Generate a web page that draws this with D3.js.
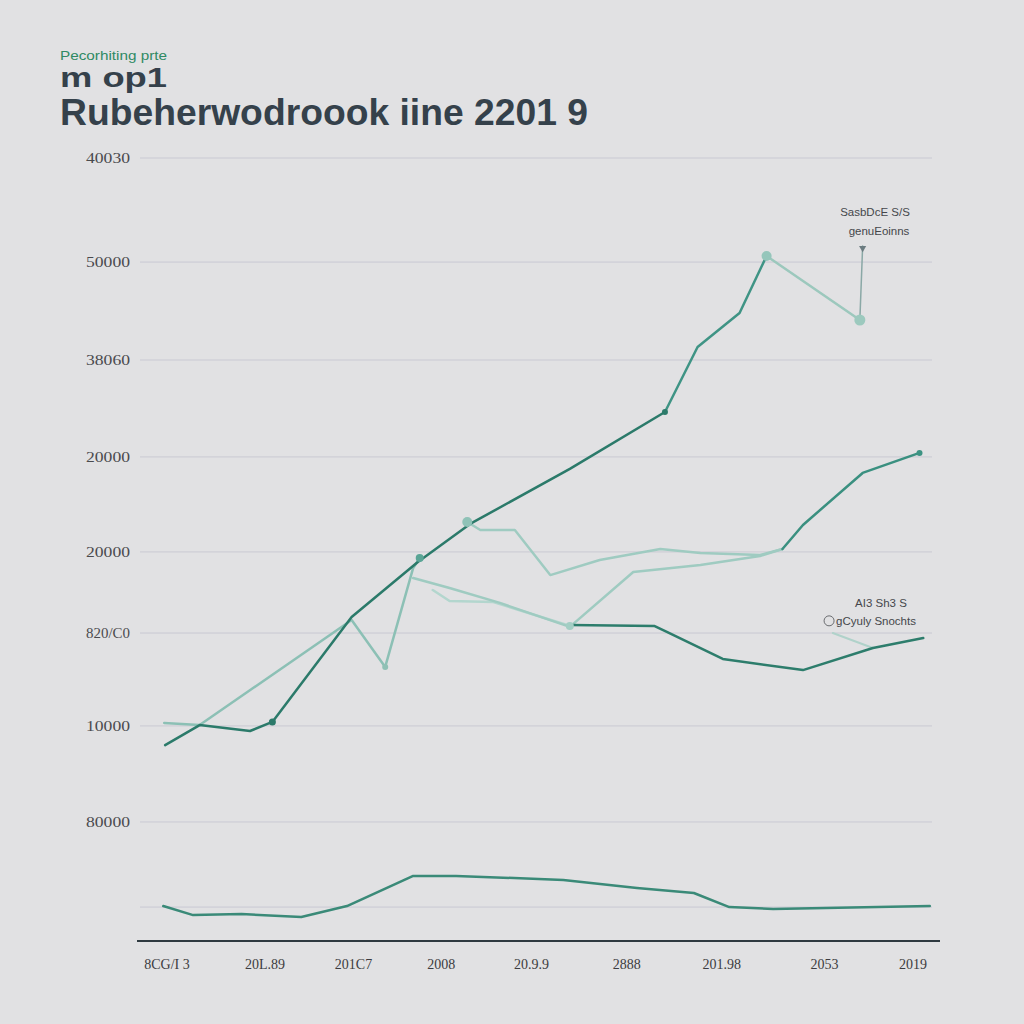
<!DOCTYPE html>
<html>
<head>
<meta charset="utf-8">
<script src="https://cdn.jsdelivr.net/npm/d3@7"></script>
<style>
  html, body { margin: 0; padding: 0; background: #e1e1e3; }
  svg { display: block; }
</style>
</head>
<body>
<svg id="chart" width="1024" height="1024"></svg>
<script>
// ---------- data ----------
const kicker = "Pecorhiting prte";
const titleLine1 = "m op1";
const titleLine2 = "Rubeherwodroook iine 2201 9";

const yGridValues = [45.0, 39.02, 33.39, 27.82, 22.36, 17.70, 12.36, 6.84, 1.95];
const yTickLabels = ["40030", "50000", "38060", "20000", "20000", "820/C0", "10000", "80000"];

const xTickValues = [0, 1.05, 2, 2.94, 3.91, 4.93, 5.95, 7.05, 8];
const xTickLabels = ["8CG/I 3", "20L.89", "201C7", "2008", "20.9.9", "2888", "201.98", "2053", "2019"];

// series: [x, y(thousands)]
const mainDark = [[-0.02,11.26],[0.35,12.41],[0.89,12.07],[1.13,12.59],[1.98,18.62],[2.69,21.78],[3.25,23.97],[4.32,27.13],[5.34,30.40]];
const riseMedium = [[5.34,30.40],[5.69,34.14],[6.14,36.09],[6.43,39.37]];
const peakLight = [[6.43,39.37],[7.43,35.69]];
const pointerLine = [[7.43,35.69],[7.46,39.94]];
const lightA = [[-0.03,12.53],[0.35,12.41],[1.98,18.45],[2.34,15.75],[2.64,21.44],[2.71,22.01]];
const lightB = [[3.22,24.08],[3.36,23.62],[3.73,23.62],[4.11,21.03],[4.64,21.90],[5.29,22.53],[5.72,22.30],[6.36,22.18],[6.60,22.53]];
const lightC = [[2.64,20.86],[3.03,20.29],[3.57,19.43],[4.32,18.05],[5.00,21.21],[5.72,21.61],[6.36,22.13],[6.60,22.53]];
const lightD = [[2.85,20.17],[3.03,19.54],[3.50,19.48],[4.29,18.16]];
const rightRise = [[6.60,22.53],[6.82,23.91],[7.46,26.90],[8.07,28.05]];
const lowerDark = [[4.32,18.16],[5.23,18.10],[5.36,17.76],[5.96,16.21],[6.82,15.57],[7.57,16.84],[8.11,17.41]];
const leader = [[7.14,17.70],[7.57,16.84]];
const bottomSeries = [[-0.04,2.01],[0.28,1.49],[0.80,1.55],[1.44,1.38],[1.93,2.01],[2.64,3.74],[3.10,3.74],[4.25,3.51],[5.04,3.05],[5.65,2.76],[6.03,1.95],[6.50,1.84],[8.18,2.01]];

const dots = [
  {p:[1.13,12.59], c:"#2c7a6a", r:3.5},
  {p:[5.34,30.40], c:"#2c7a6a", r:3},
  {p:[2.71,22.01], c:"#5aa596", r:4},
  {p:[3.22,24.08], c:"#8fc2b7", r:5},
  {p:[6.43,39.37], c:"#95c6bb", r:5},
  {p:[7.43,35.69], c:"#9cc9be", r:5.5},
  {p:[4.32,18.10], c:"#a3cec4", r:4},
  {p:[8.07,28.05], c:"#3d9383", r:3},
  {p:[2.34,15.75], c:"#8fc0b5", r:3}
];

const annoTop = ["SasbDcE S/S", "genuEoinns"];
const annoBottom = ["AI3 Sh3 S", "gCyuly Snochts"];

// ---------- drawing ----------
const svg = d3.select("#chart");
const x = d3.scaleLinear().domain([0, 8]).range([167, 913]);
const y = d3.scaleLinear().domain([0, 45]).range([941, 158]);

svg.append("rect").attr("width", 1024).attr("height", 1024).attr("fill", "#e1e1e3");

// titles
svg.append("text").attr("x", 60).attr("y", 60).text(kicker)
  .attr("font-family", "Liberation Sans, Arial, sans-serif").attr("font-size", 12)
  .attr("fill", "#2f8a64").attr("textLength", 107).attr("lengthAdjust", "spacingAndGlyphs");
svg.append("text").attr("x", 60).attr("y", 87).text(titleLine1)
  .attr("font-family", "Liberation Sans, Arial, sans-serif").attr("font-size", 27).attr("font-weight", "bold")
  .attr("fill", "#35414b").attr("textLength", 107).attr("lengthAdjust", "spacingAndGlyphs");
svg.append("text").attr("x", 60).attr("y", 125).text(titleLine2)
  .attr("font-family", "Liberation Sans, Arial, sans-serif").attr("font-size", 37).attr("font-weight", "bold")
  .attr("fill", "#35414b").attr("textLength", 528).attr("lengthAdjust", "spacingAndGlyphs");

// gridlines
svg.append("g").selectAll("line").data(yGridValues).join("line")
  .attr("x1", 140).attr("x2", 932)
  .attr("y1", d => y(d)).attr("y2", d => y(d))
  .attr("stroke", "#c9c9d3").attr("stroke-width", 1);

// y labels
svg.append("g").selectAll("text").data(yTickLabels).join("text")
  .attr("x", 130).attr("y", (d, i) => y(yGridValues[i]) + 5)
  .attr("text-anchor", "end").text(d => d)
  .attr("font-family", "Liberation Serif, DejaVu Serif, serif").attr("font-size", 15)
  .attr("fill", "#4a4a4e").attr("textLength", 44).attr("lengthAdjust", "spacingAndGlyphs");

// x axis line
svg.append("line").attr("x1", 137).attr("x2", 940).attr("y1", y(0)).attr("y2", y(0))
  .attr("stroke", "#2f3a40").attr("stroke-width", 2);

// x labels
svg.append("g").selectAll("text").data(xTickLabels).join("text")
  .attr("x", (d, i) => x(xTickValues[i])).attr("y", 969)
  .attr("text-anchor", "middle").text(d => d)
  .attr("font-family", "Liberation Serif, DejaVu Serif, serif").attr("font-size", 14)
  .attr("fill", "#3c3c40");

const line = d3.line().x(d => x(d[0])).y(d => y(d[1]));
function drawSeries(data, color, width) {
  svg.append("path").datum(data).attr("d", line)
    .attr("fill", "none").attr("stroke", color).attr("stroke-width", width)
    .attr("stroke-linejoin", "round").attr("stroke-linecap", "round");
}

drawSeries(lightD, "#b3d6ce", 2.5);
drawSeries(lightC, "#9fcbc1", 2.5);
drawSeries(lightB, "#9fcbc1", 2.5);
drawSeries(lightA, "#8cc0b5", 2.5);
drawSeries(leader, "#b0d2ca", 2);
drawSeries(peakLight, "#9cc8bd", 2.5);
drawSeries(pointerLine, "#8aa8a6", 1.5);
drawSeries(riseMedium, "#3f9485", 2.5);
drawSeries(rightRise, "#3a9080", 2.5);
drawSeries(lowerDark, "#2d7d6c", 2.5);
drawSeries(mainDark, "#2b7a6a", 2.5);
drawSeries(bottomSeries, "#3a8a78", 2.5);

// arrow head on pointer
const tip = pointerLine[1];
svg.append("path")
  .attr("d", d3.symbol().type(d3.symbolTriangle).size(22))
  .attr("transform", `translate(${x(tip[0])},${y(tip[1]) + 2}) rotate(180)`)
  .attr("fill", "#6b7b80");

// dots
svg.append("g").selectAll("circle").data(dots).join("circle")
  .attr("cx", d => x(d.p[0])).attr("cy", d => y(d.p[1])).attr("r", d => d.r)
  .attr("fill", d => d.c);

// annotations
const annoFont = "Liberation Sans, Arial, sans-serif";
svg.append("g").selectAll("text").data(annoTop).join("text")
  .attr("x", (d, i) => i === 0 ? 875 : 879).attr("y", (d, i) => 216 + i * 19)
  .attr("text-anchor", "middle").text(d => d)
  .attr("font-family", annoFont).attr("font-size", 11.5).attr("fill", "#45474b");
svg.append("g").selectAll("text").data(annoBottom).join("text")
  .attr("x", (d, i) => i === 0 ? 881 : 876).attr("y", (d, i) => 607 + i * 18)
  .attr("text-anchor", "middle").text(d => d)
  .attr("font-family", annoFont).attr("font-size", 11.5).attr("fill", "#45474b");
// small icon next to bottom annotation
svg.append("circle").attr("cx", x(7.1)).attr("cy", y(18.4)).attr("r", 5)
  .attr("fill", "none").attr("stroke", "#6a6c70").attr("stroke-width", 1);
</script>
</body>
</html>
